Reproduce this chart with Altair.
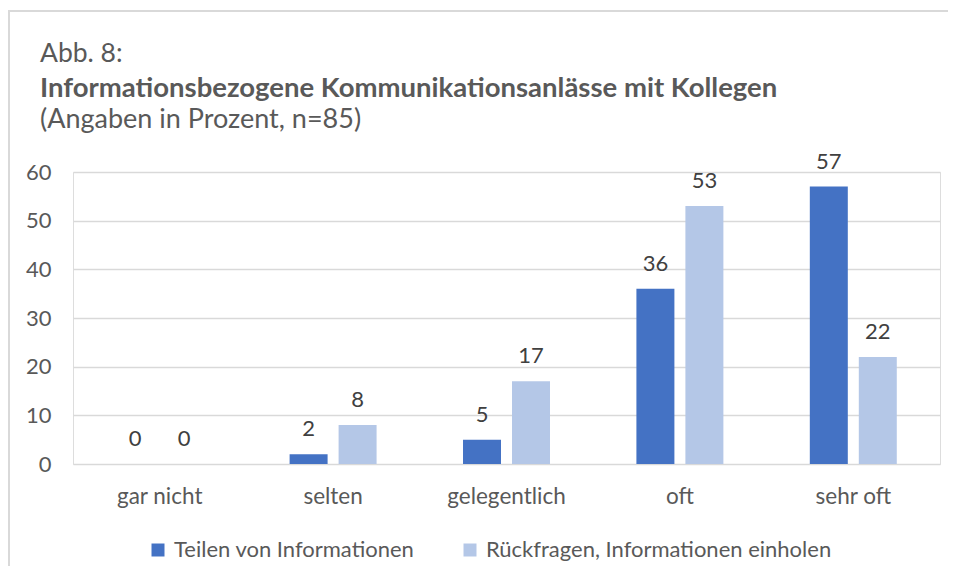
import altair as alt
import pandas as pd

categories = ["gar nicht", "selten", "gelegentlich", "oft", "sehr oft"]
series = ["Teilen von Informationen", "Rückfragen, Informationen einholen"]
teilen = [0, 2, 5, 36, 57]
rueckfragen = [0, 8, 17, 53, 22]
colors = ["#4472C4", "#B4C7E7"]
y_ticks = [0, 10, 20, 30, 40, 50, 60]
title_lines = [
    "Abb. 8:",
    "Informationsbezogene Kommunikationsanlässe mit Kollegen",
    "(Angaben in Prozent, n=85)",
]

rows = []
for i, c in enumerate(categories):
    rows.append({"cat": c, "series": series[0], "value": teilen[i]})
    rows.append({"cat": c, "series": series[1], "value": rueckfragen[i]})
df = pd.DataFrame(rows)

FONT = "Lato"
W, H = 867, 292

x_enc = alt.X(
    "cat:N", sort=categories,
    scale=alt.Scale(paddingInner=0, paddingOuter=0),
    axis=alt.Axis(title=None, labelAngle=0, ticks=False, domain=False, grid=False,
                  labelPadding=39, labelBaseline="alphabetic", labelFontSize=22.5,
                  labelFont=FONT, labelColor="#595959"),
)
y_enc = alt.Y(
    "value:Q", scale=alt.Scale(domain=[0, 60], nice=False),
    axis=alt.Axis(title=None, values=y_ticks, ticks=False, domain=False,
                  labelPadding=22, labelFontSize=22, labelFont=FONT,
                  labelColor="#595959", gridColor="#d9d9d9", gridWidth=1.3),
)
xoff = alt.XOffset("series:N", sort=series,
                   scale=alt.Scale(paddingInner=0.2245, paddingOuter=0.882))
color_enc = alt.Color(
    "series:N", sort=series, scale=alt.Scale(domain=series, range=colors),
    legend=alt.Legend(orient="none", legendX=74, legendY=367, direction="horizontal",
                      title=None, symbolType="square", symbolSize=169,
                      symbolStrokeWidth=0, labelFontSize=22, labelFont=FONT,
                      labelColor="#595959", columnPadding=44, labelOffset=5,
                      labelLimit=0),
)

bars = alt.Chart(df).mark_bar().encode(x=x_enc, y=y_enc, xOffset=xoff, color=color_enc)
labels = alt.Chart(df).mark_text(
    dy=-18, baseline="alphabetic", fontSize=22, font=FONT, color="#404040"
).encode(x=x_enc, y=y_enc, xOffset=xoff, text="value:Q")

border = alt.Chart(pd.DataFrame({"k": [0]})).mark_rect(
    fill=None, stroke="#d9d9d9", strokeWidth=2
).encode(x=alt.value(-64), x2=alt.value(1000), y=alt.value(-161), y2=alt.value(600))

t1 = alt.Chart(pd.DataFrame({"t": [title_lines[0]]})).mark_text(
    align="left", baseline="alphabetic", fontSize=26.5, font=FONT, color="#595959"
).encode(text="t:N", x=alt.value(-33), y=alt.value(-110))
t2 = alt.Chart(pd.DataFrame({"t": [title_lines[1]]})).mark_text(
    align="left", baseline="alphabetic", fontSize=27.5, font=FONT, fontWeight="bold",
    color="#595959"
).encode(text="t:N", x=alt.value(-33), y=alt.value(-75))
t3 = alt.Chart(pd.DataFrame({"t": [title_lines[2]]})).mark_text(
    align="left", baseline="alphabetic", fontSize=27, font=FONT, color="#595959"
).encode(text="t:N", x=alt.value(-33), y=alt.value(-44))

chart = alt.layer(border, bars, labels, t1, t2, t3).properties(
    width=W, height=H,
    autosize=alt.AutoSizeParams(type="none"),
    padding={"left": 65, "top": 164, "right": 8, "bottom": 102},
).configure_view(stroke=None).configure(font=FONT, background="white")

chart.save("out.html", embed_options={"renderer": "svg", "actions": False})
